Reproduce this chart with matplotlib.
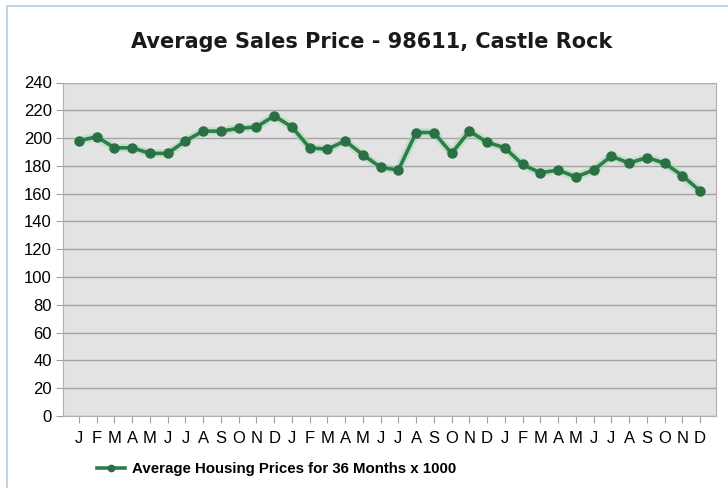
import matplotlib
matplotlib.use('Agg')
import matplotlib.pyplot as plt
from matplotlib.patches import Rectangle

months = ['J', 'F', 'M', 'A', 'M', 'J', 'J', 'A', 'S', 'O', 'N', 'D'] * 3
prices = [198, 201, 193, 193, 189, 189, 198, 205, 205, 207, 208, 216,
          208, 193, 192, 198, 188, 179, 177, 204, 204, 189, 205, 197,
          193, 181, 175, 177, 172, 177, 187, 182, 186, 182, 173, 162]
yticks = list(range(0, 241, 20))

title = 'Average Sales Price - 98611, Castle Rock'
series_name = 'Average Housing Prices for 36 Months x 1000'

plt.rcParams['font.family'] = ['Liberation Sans', 'DejaVu Sans']

fig = plt.figure(figsize=(7.28, 4.88), dpi=100)
fig.patch.set_facecolor('white')

# light blue frame around the chart
fig.add_artist(Rectangle((7 / 728, -0.1), 1.2, 1 - 6 / 488 + 0.1,
                         transform=fig.transFigure, fill=False,
                         edgecolor='#b8cce4', linewidth=1.2))

ax = fig.add_axes([63 / 728, 1 - 416 / 488, (716 - 63) / 728, (416 - 82.5) / 488])
ax.set_facecolor('#e3e3e3')

x = list(range(len(prices)))
ax.plot(x, prices, color='#9fdcb0', linewidth=6, alpha=0.5, zorder=2,
        solid_capstyle='round')
ax.plot(x, prices, color='#2e7d4a', linewidth=2.6, marker='o', markersize=6.5,
        markerfacecolor='#2a7044', markeredgecolor='#2a7044', zorder=3,
        label=series_name)

ax.set_ylim(0, 240)
ax.set_xlim(-0.9, len(prices) - 0.1)
ax.set_yticks(yticks)
ax.set_xticks(x)
ax.set_xticklabels(months)
ax.yaxis.grid(True, color='#a4a4a4', linewidth=1)
ax.set_axisbelow(True)
ax.tick_params(axis='both', direction='out', length=5, color='#a0a0a0',
               labelsize=12, pad=3)
ax.tick_params(axis='x', pad=6)
for s in ax.spines.values():
    s.set_color('#b0b0b0')

fig.text(0.511, 1 - 42 / 488, title, ha='center', va='center',
         fontsize=15, fontweight='bold', color='#1a1a1a',
         family=['DejaVu Sans'])

leg = fig.legend(loc='center left', bbox_to_anchor=(83 / 728, 1 - 469 / 488),
                 frameon=False, handlelength=1.9, handletextpad=0.5,
                 markerscale=0.7,
                 prop={'weight': 'bold', 'size': 10.8})

fig.savefig('out.png', dpi=100)
